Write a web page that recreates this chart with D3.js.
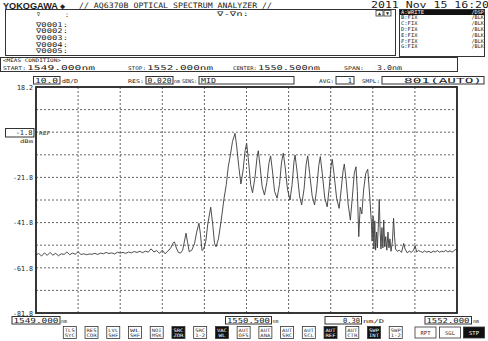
<!DOCTYPE html>
<html>
<head>
<meta charset="utf-8">
<script src="https://cdn.jsdelivr.net/npm/d3@7"></script>
<style>
  body { margin: 0; background: #fff; }
  svg text { font-family: "DejaVu Sans Mono", monospace; fill: #222; }
</style>
</head>
<body>
<div id="osa"></div>
<script>
// spectrum (nm, dBm)
const wavelength = [
  1549.000, 1549.020, 1549.040, 1549.060, 1549.080, 1549.100, 1549.120, 1549.140, 1549.160, 1549.180,
  1549.200, 1549.220, 1549.240, 1549.260, 1549.280, 1549.300, 1549.320, 1549.340, 1549.360, 1549.380,
  1549.400, 1549.420, 1549.440, 1549.460, 1549.480, 1549.500, 1549.520, 1549.540, 1549.560, 1549.580,
  1549.600, 1549.620, 1549.640, 1549.660, 1549.680, 1549.700, 1549.720, 1549.740, 1549.760, 1549.780,
  1549.800, 1549.820, 1549.840, 1549.860, 1549.880, 1549.900, 1549.920, 1549.940, 1549.960, 1549.975,
  1549.986, 1550.000, 1550.015, 1550.030, 1550.045, 1550.058, 1550.069, 1550.080, 1550.092, 1550.110,
  1550.130, 1550.145, 1550.161, 1550.172, 1550.183, 1550.195, 1550.210, 1550.225, 1550.245, 1550.260,
  1550.272, 1550.283, 1550.300, 1550.320, 1550.340, 1550.356, 1550.370, 1550.385, 1550.400, 1550.418,
  1550.430, 1550.445, 1550.460, 1550.475, 1550.490, 1550.501, 1550.512, 1550.530, 1550.543, 1550.560,
  1550.575, 1550.584, 1550.595, 1550.612, 1550.628, 1550.645, 1550.660, 1550.672, 1550.685, 1550.700,
  1550.718, 1550.735, 1550.750, 1550.762, 1550.775, 1550.792, 1550.810, 1550.825, 1550.838, 1550.846,
  1550.860, 1550.878, 1550.893, 1550.910, 1550.925, 1550.936, 1550.950, 1550.968, 1550.985, 1551.000,
  1551.015, 1551.026, 1551.040, 1551.058, 1551.075, 1551.090, 1551.102, 1551.111, 1551.125, 1551.142,
  1551.160, 1551.175, 1551.188, 1551.197, 1551.210, 1551.225, 1551.240, 1551.255, 1551.268, 1551.280,
  1551.290, 1551.300, 1551.310, 1551.322, 1551.335, 1551.350, 1551.364, 1551.378, 1551.390, 1551.395,
  1551.402, 1551.408, 1551.414, 1551.420, 1551.427, 1551.433, 1551.440, 1551.446, 1551.452, 1551.458,
  1551.465, 1551.472, 1551.478, 1551.485, 1551.492, 1551.500, 1551.508, 1551.515, 1551.522, 1551.530,
  1551.540, 1551.548, 1551.555, 1551.562, 1551.575, 1551.590, 1551.605, 1551.620, 1551.630, 1551.645,
  1551.660, 1551.675, 1551.690, 1551.702, 1551.712, 1551.725, 1551.740, 1551.755, 1551.770, 1551.785,
  1551.800, 1551.815, 1551.830, 1551.845, 1551.860, 1551.875, 1551.890, 1551.905, 1551.920, 1551.935,
  1551.950, 1551.965, 1551.980, 1551.992, 1552.000
];
const level = [
  -56.0, -55.5, -56.6, -55.2, -56.3, -55.0, -56.2, -55.4, -56.5, -55.6,
  -55.9, -54.8, -56.0, -55.3, -55.8, -54.7, -55.9, -55.6, -56.0, -55.7,
  -55.8, -55.4, -55.9, -55.3, -55.6, -55.0, -55.5, -55.2, -55.7, -54.9,
  -55.3, -55.0, -55.4, -54.8, -55.2, -54.6, -55.0, -54.5, -55.1, -54.4,
  -54.9, -53.4, -54.8, -54.2, -55.4, -54.0, -55.6, -54.4, -53.0, -51.0,
  -50.3, -53.0, -55.0, -55.3, -54.0, -50.0, -46.5, -50.5, -54.7, -54.0,
  -51.0, -46.0, -42.1, -47.0, -54.2, -53.5, -50.0, -42.0, -35.0, -43.0,
  -51.0, -52.5, -49.0, -40.7, -31.0, -25.0, -17.1, -12.0, -6.0, -2.3,
  -8.0, -17.0, -24.7, -19.0, -10.0, -6.7, -13.0, -25.0, -28.6, -22.0,
  -13.0, -10.0, -16.0, -26.0, -29.6, -24.0, -15.5, -12.3, -19.0, -28.0,
  -31.0, -25.0, -15.0, -11.1, -17.0, -27.0, -31.8, -25.0, -15.0, -11.9,
  -19.0, -30.0, -34.0, -27.0, -16.0, -12.3, -20.0, -30.0, -34.0, -27.0,
  -16.5, -12.6, -20.0, -31.0, -34.8, -26.0, -17.0, -13.8, -21.0, -31.0,
  -35.5, -27.0, -19.0, -15.9, -23.0, -34.0, -40.7, -30.0, -20.0, -17.1,
  -28.0, -48.0, -35.0, -38.0, -27.0, -20.0, -18.2, -30.0, -42.0, -50.0,
  -39.0, -53.5, -41.0, -54.0, -46.0, -53.0, -42.0, -31.5, -45.0, -53.5,
  -44.0, -53.0, -40.7, -52.5, -48.0, -54.0, -46.0, -53.0, -49.0, -54.5,
  -50.0, -39.9, -48.0, -53.5, -54.5, -54.0, -55.0, -51.0, -53.5, -55.2,
  -54.4, -55.0, -54.0, -52.0, -54.8, -54.2, -54.6, -55.0, -54.3, -54.9,
  -54.5, -55.1, -54.4, -54.8, -54.2, -54.9, -54.5, -54.7, -54.1, -54.8,
  -54.3, -54.9, -54.2, -53.6, -54.5
];

const yLabels = ["18.2", "-21.8", "-41.8", "-61.8", "-81.8"];
const refLevel = -1.8;
const markers = ["\u22070001:", "\u22070002:", "\u22070003:", "\u22070004:", "\u22070005:"];
const traceNames = ["A:WRITE", "B:FIX", "C:FIX", "D:FIX", "E:FIX", "F:FIX", "G:FIX"];
const traceModes = ["/DSP", "/BLK", "/BLK", "/BLK", "/BLK", "/BLK", "/BLK"];
const softKeys = [
  ["TLS", "SYC"], ["RES", "COR"], ["LVL", "SHF"], ["WL", "SHF"], ["NOI", "MSK"],
  ["SRC", "ZOR"], ["SRC", "1-2"], ["VAC", "WL"], ["AUT", "OFS"], ["AUT", "ANA"],
  ["AUT", "SRC"], ["AUT", "SCL"], ["AUT", "REF"], ["AUT", "CTR"], ["SWP", "INT"], ["SWP", "1-2"]
];
const softKeysOn = ["SRC ZOR", "VAC WL", "AUT REF", "SWP INT"];
const sweepKeys = ["RPT", "SGL", "STP"];

const width = 488;
const height = 341;
const plot = { left: 36, right: 457, top: 87, bottom: 313 };

const svg = d3.select("#osa").append("svg")
  .attr("width", width).attr("height", height)
  .attr("viewBox", [0, 0, width, height]);

const x = d3.scaleLinear().domain([1549, 1552]).range([plot.left, plot.right]);
const y = d3.scaleLinear().domain([-81.8, 18.2]).range([plot.bottom, plot.top]);

// petit utilitaire texte
function txt(px, py, s, size, opt = {}) {
  const t = svg.append("text").attr("x", px).attr("y", py)
    .attr("font-size", size).text(s);
  if (opt.len) t.attr("textLength", opt.len).attr("lengthAdjust", "spacingAndGlyphs");
  if (opt.anchor) t.attr("text-anchor", opt.anchor);
  if (opt.fill) t.style("fill", opt.fill);
  if (opt.weight) t.attr("font-weight", opt.weight);
  if (opt.family) t.style("font-family", opt.family);
  return t;
}
function box(x0, y0, x1, y1, sw = 1, fill = "none") {
  return svg.append("rect").attr("x", x0).attr("y", y0)
    .attr("width", x1 - x0).attr("height", y1 - y0)
    .attr("fill", fill).attr("stroke", "#333").attr("stroke-width", sw);
}

// header
txt(3, 8.5, "YOKOGAWA", 8.5, { len: 55, weight: "bold", family: "Liberation Sans" });
txt(60, 8.5, "\u25C6", 8.5);
txt(79, 8, "// AQ6370B OPTICAL SPECTRUM ANALYZER //", 7.5, { len: 193 });
txt(371, 8, "2011 Nov 15 16:20", 8, { len: 118 });

// marker panel
box(5.5, 9.5, 395.5, 55.5);
txt(37, 15.5, "\u2207", 5);
txt(65, 17, ":", 6.5);
markers.forEach((m, i) => txt(36, 26.7 + i * 6.65, m, 6.5, { len: 32 }));
txt(217, 16, "\u2207-\u2207n:", 6.5, { len: 32 });
box(376, 10.5, 383, 16, 0.8);
box(384, 10.5, 391, 16, 0.8);
txt(379.5, 15.3, "\u25B2", 5, { anchor: "middle" });
txt(387.5, 15.3, "\u25BC", 5, { anchor: "middle" });

// trace panel
box(399.5, 9.5, 484.5, 56.5);
svg.append("rect").attr("x", 400).attr("y", 10).attr("width", 84).attr("height", 5).attr("fill", "#111");
traceNames.forEach((n, i) => {
  const by = i === 0 ? 14.4 : 19.2 + (i - 1) * 5.85;
  const f = i === 0 ? "#fff" : "#222";
  txt(401, by, n, 5.2, { fill: f, len: n.length * 3.3 });
  txt(484, by, traceModes[i], 5.2, { fill: f, anchor: "end" });
});

// meas condition
box(0.5, 57.5, 457.5, 71.5);
txt(3, 62.3, "<MEAS CONDITION>", 4.8, { len: 58 });
txt(3, 69.8, "START:", 5, { len: 23 });
txt(27, 69.8, "1549.000nm", 6.6, { len: 68 });
txt(128, 69.8, "STOP:", 5, { len: 18 });
txt(147, 69.8, "1552.000nm", 6.6, { len: 66 });
txt(233, 69.8, "CENTER:", 5, { len: 24 });
txt(258, 69.8, "1550.500nm", 6.6, { len: 62 });
txt(344, 69.8, "SPAN:", 5, { len: 20 });
txt(377, 69.8, "3.0nm", 6.6, { len: 25 });

// settings row
box(33.5, 76.5, 60, 84);
txt(35, 83.3, "10.0", 7, { len: 23 });
txt(62, 83.3, "dB/D", 5.5, { len: 16 });
txt(128, 83.3, "RES:", 5, { len: 16 });
box(146, 76.5, 173, 84);
txt(147.5, 83.3, "0.020", 7, { len: 24 });
txt(174, 83.3, "nm", 5, { len: 6 });
txt(182, 83.3, "SENS:", 5, { len: 15 });
box(199, 76.5, 294, 84);
txt(201, 83.3, "MID", 7, { len: 15 });
txt(319, 83.3, "AVG:", 5, { len: 15 });
box(336, 76.5, 354, 84);
txt(352, 83.3, "1", 7, { anchor: "end" });
txt(362, 83.3, "SMPL:", 5, { len: 18 });
box(382, 76.5, 484, 84);
txt(404, 83.3, "801(AUTO)", 7, { len: 78 });

// grid
const gridX = d3.range(11).map((i) => 1549 + i * 0.3);
const gridY = d3.range(11).map((i) => -81.8 + i * 10);
svg.append("g").selectAll("line").data(gridX.slice(1, -1)).join("line")
  .attr("x1", (d) => x(d)).attr("x2", (d) => x(d))
  .attr("y1", plot.top).attr("y2", plot.bottom)
  .attr("stroke", "#555").attr("stroke-width", 0.9).attr("stroke-dasharray", "2,2");
svg.append("g").selectAll("line").data(gridY.slice(1, -1)).join("line")
  .attr("x1", plot.left).attr("x2", plot.right)
  .attr("y1", (d) => y(d)).attr("y2", (d) => y(d))
  .attr("stroke", "#555").attr("stroke-width", 0.9).attr("stroke-dasharray", "2,2");

// y labels
yLabels.forEach((l) => txt(33, y(+l) + 2.8, l, 6.8, { anchor: "end", len: l.length * 4 }));
box(5.5, 128.5, 34, 137);
txt(32.5, y(refLevel) + 3, refLevel.toFixed(1), 7, { anchor: "end" });
txt(20, 142.5, "dBm", 4.8, { len: 13 });
txt(39, 134.5, "REF", 4.8, { len: 11 });

// trace
const line = d3.line().x((d, i) => x(wavelength[i])).y((d) => y(d));
svg.append("path").datum(level)
  .attr("fill", "none").attr("stroke", "#3a3a3a").attr("stroke-width", 0.9)
  .attr("stroke-linejoin", "round").attr("d", line);

// frame
svg.append("rect").attr("x", plot.left).attr("y", plot.top)
  .attr("width", plot.right - plot.left).attr("height", plot.bottom - plot.top)
  .attr("fill", "none").attr("stroke", "#222").attr("stroke-width", 1.8);

// x labels
box(12, 316.5, 60, 324);
txt(13.5, 323.3, d3.format(".3f")(x.domain()[0]), 7, { len: 45 });
txt(61, 323.3, "nm", 5);
box(225.5, 316.5, 271.5, 324);
txt(227, 323.3, d3.format(".3f")((x.domain()[0] + x.domain()[1]) / 2), 7, { len: 43 });
txt(272.5, 323.3, "nm", 5);
box(325, 316.5, 361.5, 324);
txt(360, 323.3, "0.30", 7, { anchor: "end", len: 17 });
txt(363, 323.3, "nm/D", 5, { len: 21 });
box(425, 316.5, 471.5, 324);
txt(426.5, 323.3, d3.format(".3f")(x.domain()[1]), 7, { len: 43 });
txt(473, 323.3, "nm", 5);

// soft keys
softKeys.forEach((k, i) => {
  const kx = 63.3 + i * 21.73;
  const on = softKeysOn.includes(k.join(" "));
  box(kx, 326.5, kx + 13, 338.5, 0.8, on ? "#111" : "#fff");
  txt(kx + 6.5, 331.8, k[0], 4.6, { anchor: "middle", fill: on ? "#fff" : "#333", len: 10 });
  txt(kx + 6.5, 337.3, k[1], 4.6, { anchor: "middle", fill: on ? "#fff" : "#333", len: k[1].length > 2 ? 10 : 7 });
});
const sweepX = [415, 439.5, 463.5];
sweepKeys.forEach((k, i) => {
  const on = k === "STP";
  box(sweepX[i], 327, sweepX[i] + 21, 338, 0.8, on ? "#111" : "#fff");
  txt(sweepX[i] + 10.5, 334.7, k, 5.5, { anchor: "middle", fill: on ? "#fff" : "#333" });
});
</script>
</body>
</html>
